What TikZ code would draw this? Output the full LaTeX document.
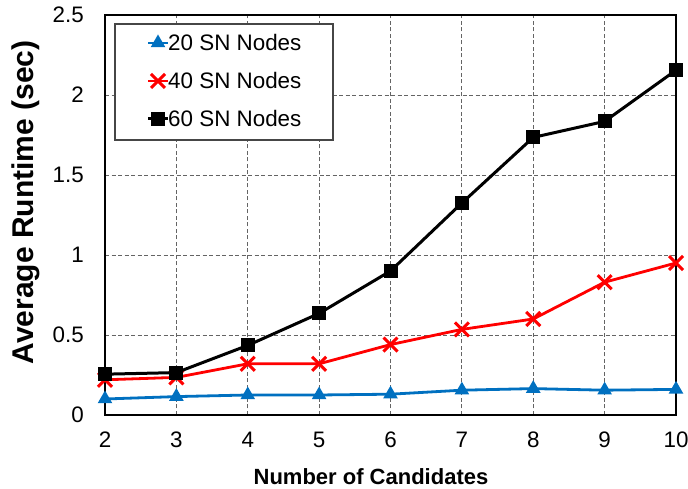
\documentclass[tikz,border=0pt]{standalone}
\usepackage{fontspec}
\setmainfont{Liberation Sans}
\usetikzlibrary{shapes.geometric,shapes.misc}
\definecolor{sblue}{RGB}{0,112,192}
\definecolor{gridc}{RGB}{100,100,100}
\definecolor{legc}{RGB}{70,70,70}
\begin{document}
\begin{tikzpicture}[x=1pt,y=1pt,
  gridline/.style={gridc,line width=0.9pt,dash pattern=on 4pt off 2.5pt},
  axframe/.style={black,line width=2pt},
  ticklab/.style={font=\fontsize{22.4}{24}\selectfont,inner sep=0pt},
  axtitle/.style={font=\fontsize{22}{24}\selectfont\bfseries,inner sep=0pt},
  ytitle/.style={font=\fontsize{30}{32}\selectfont\bfseries,inner sep=0pt},
  legtext/.style={font=\fontsize{22.4}{24}\selectfont,inner sep=0pt,anchor=west},
  bline/.style={sblue,line width=2.8pt,line join=round},
  rline/.style={red,line width=2.8pt,line join=round},
  kline/.style={black,line width=3pt,line join=round},
  trimark/.style={regular polygon,regular polygon sides=3,fill=sblue,inner sep=0pt,minimum size=17pt},
  sqmark/.style={rectangle,fill=black,inner sep=0pt,minimum size=14pt},
  xmark/.style={cross out,draw=red,line width=3pt,inner sep=0pt,minimum size=11pt}
]
\useasboundingbox (0,0) rectangle (688,489);

\begin{scope}[shift={(-37.75pt,74pt)},x=71.375pt,y=160pt]
  % grid
  \foreach \v in {3,...,9} \draw[gridline] (\v,0) -- (\v,2.5);
  \foreach \v in {0.5,1,1.5,2} \draw[gridline] (2,\v) -- (10,\v);
  % frame
  \draw[axframe] (2,0) rectangle (10,2.5);
  % tick labels
  \foreach \v in {2,...,10} \path (\v,0) ++(0pt,-25pt) node[ticklab] (xl\v) {\v};
  \foreach \v in {0,0.5,1,1.5,2,2.5} \path (2,\v) ++(-21pt,0pt) node[ticklab,anchor=east] {\v};

  % data coordinates
  \foreach \x/\y in {2/0.10,3/0.115,4/0.125,5/0.125,6/0.13,7/0.155,8/0.165,9/0.155,10/0.16}
    \coordinate (b\x) at (\x,\y);
  \foreach \x/\y in {2/0.22,3/0.235,4/0.32,5/0.32,6/0.44,7/0.535,8/0.60,9/0.83,10/0.95}
    \coordinate (r\x) at (\x,\y);
  \foreach \x/\y in {2/0.255,3/0.265,4/0.435,5/0.635,6/0.90,7/1.325,8/1.735,9/1.835,10/2.155}
    \coordinate (k\x) at (\x,\y);

  % series 20
  \draw[bline] (b2)--(b3)--(b4)--(b5)--(b6)--(b7)--(b8)--(b9)--(b10);
  \foreach \x in {2,...,10} \node[trimark] (bm\x) at (b\x) {};
  % series 40
  \draw[rline] (r2)--(r3)--(r4)--(r5)--(r6)--(r7)--(r8)--(r9)--(r10);
  \foreach \x in {2,...,10} \node[xmark] (rm\x) at (r\x) {};
  % series 60
  \draw[kline] (k2)--(k3)--(k4)--(k5)--(k6)--(k7)--(k8)--(k9)--(k10);
  \foreach \x in {2,...,10} \node[sqmark] (km\x) at (k\x) {};
\end{scope}

% legend
\draw[legc,line width=1.2pt,fill=white] (115,349) rectangle (333,465);
\coordinate (l1a) at (148,446); \coordinate (l1b) at (168,446);
\coordinate (l2a) at (148,408); \coordinate (l2b) at (168,408);
\coordinate (l3a) at (148,370); \coordinate (l3b) at (168,370);
\draw[bline] (l1a) -- (l1b);
\node[trimark] (lm1) at (158,446) {};
\node[legtext] (lt1) at (168,446) {20 SN Nodes};
\draw[rline] (l2a) -- (l2b);
\node[xmark] (lm2) at (158,408) {};
\node[legtext] (lt2) at (168,408) {40 SN Nodes};
\draw[kline] (l3a) -- (l3b);
\node[sqmark] (lm3) at (158,370) {};
\node[legtext] (lt3) at (168,370) {60 SN Nodes};

% axis titles
\node[axtitle,anchor=base] (xt) at (371,4) {Number of Candidates};
\node[ytitle,anchor=base,rotate=90] (yt) at (33,286.5) {Average Runtime (sec)};
\end{tikzpicture}
\end{document}
